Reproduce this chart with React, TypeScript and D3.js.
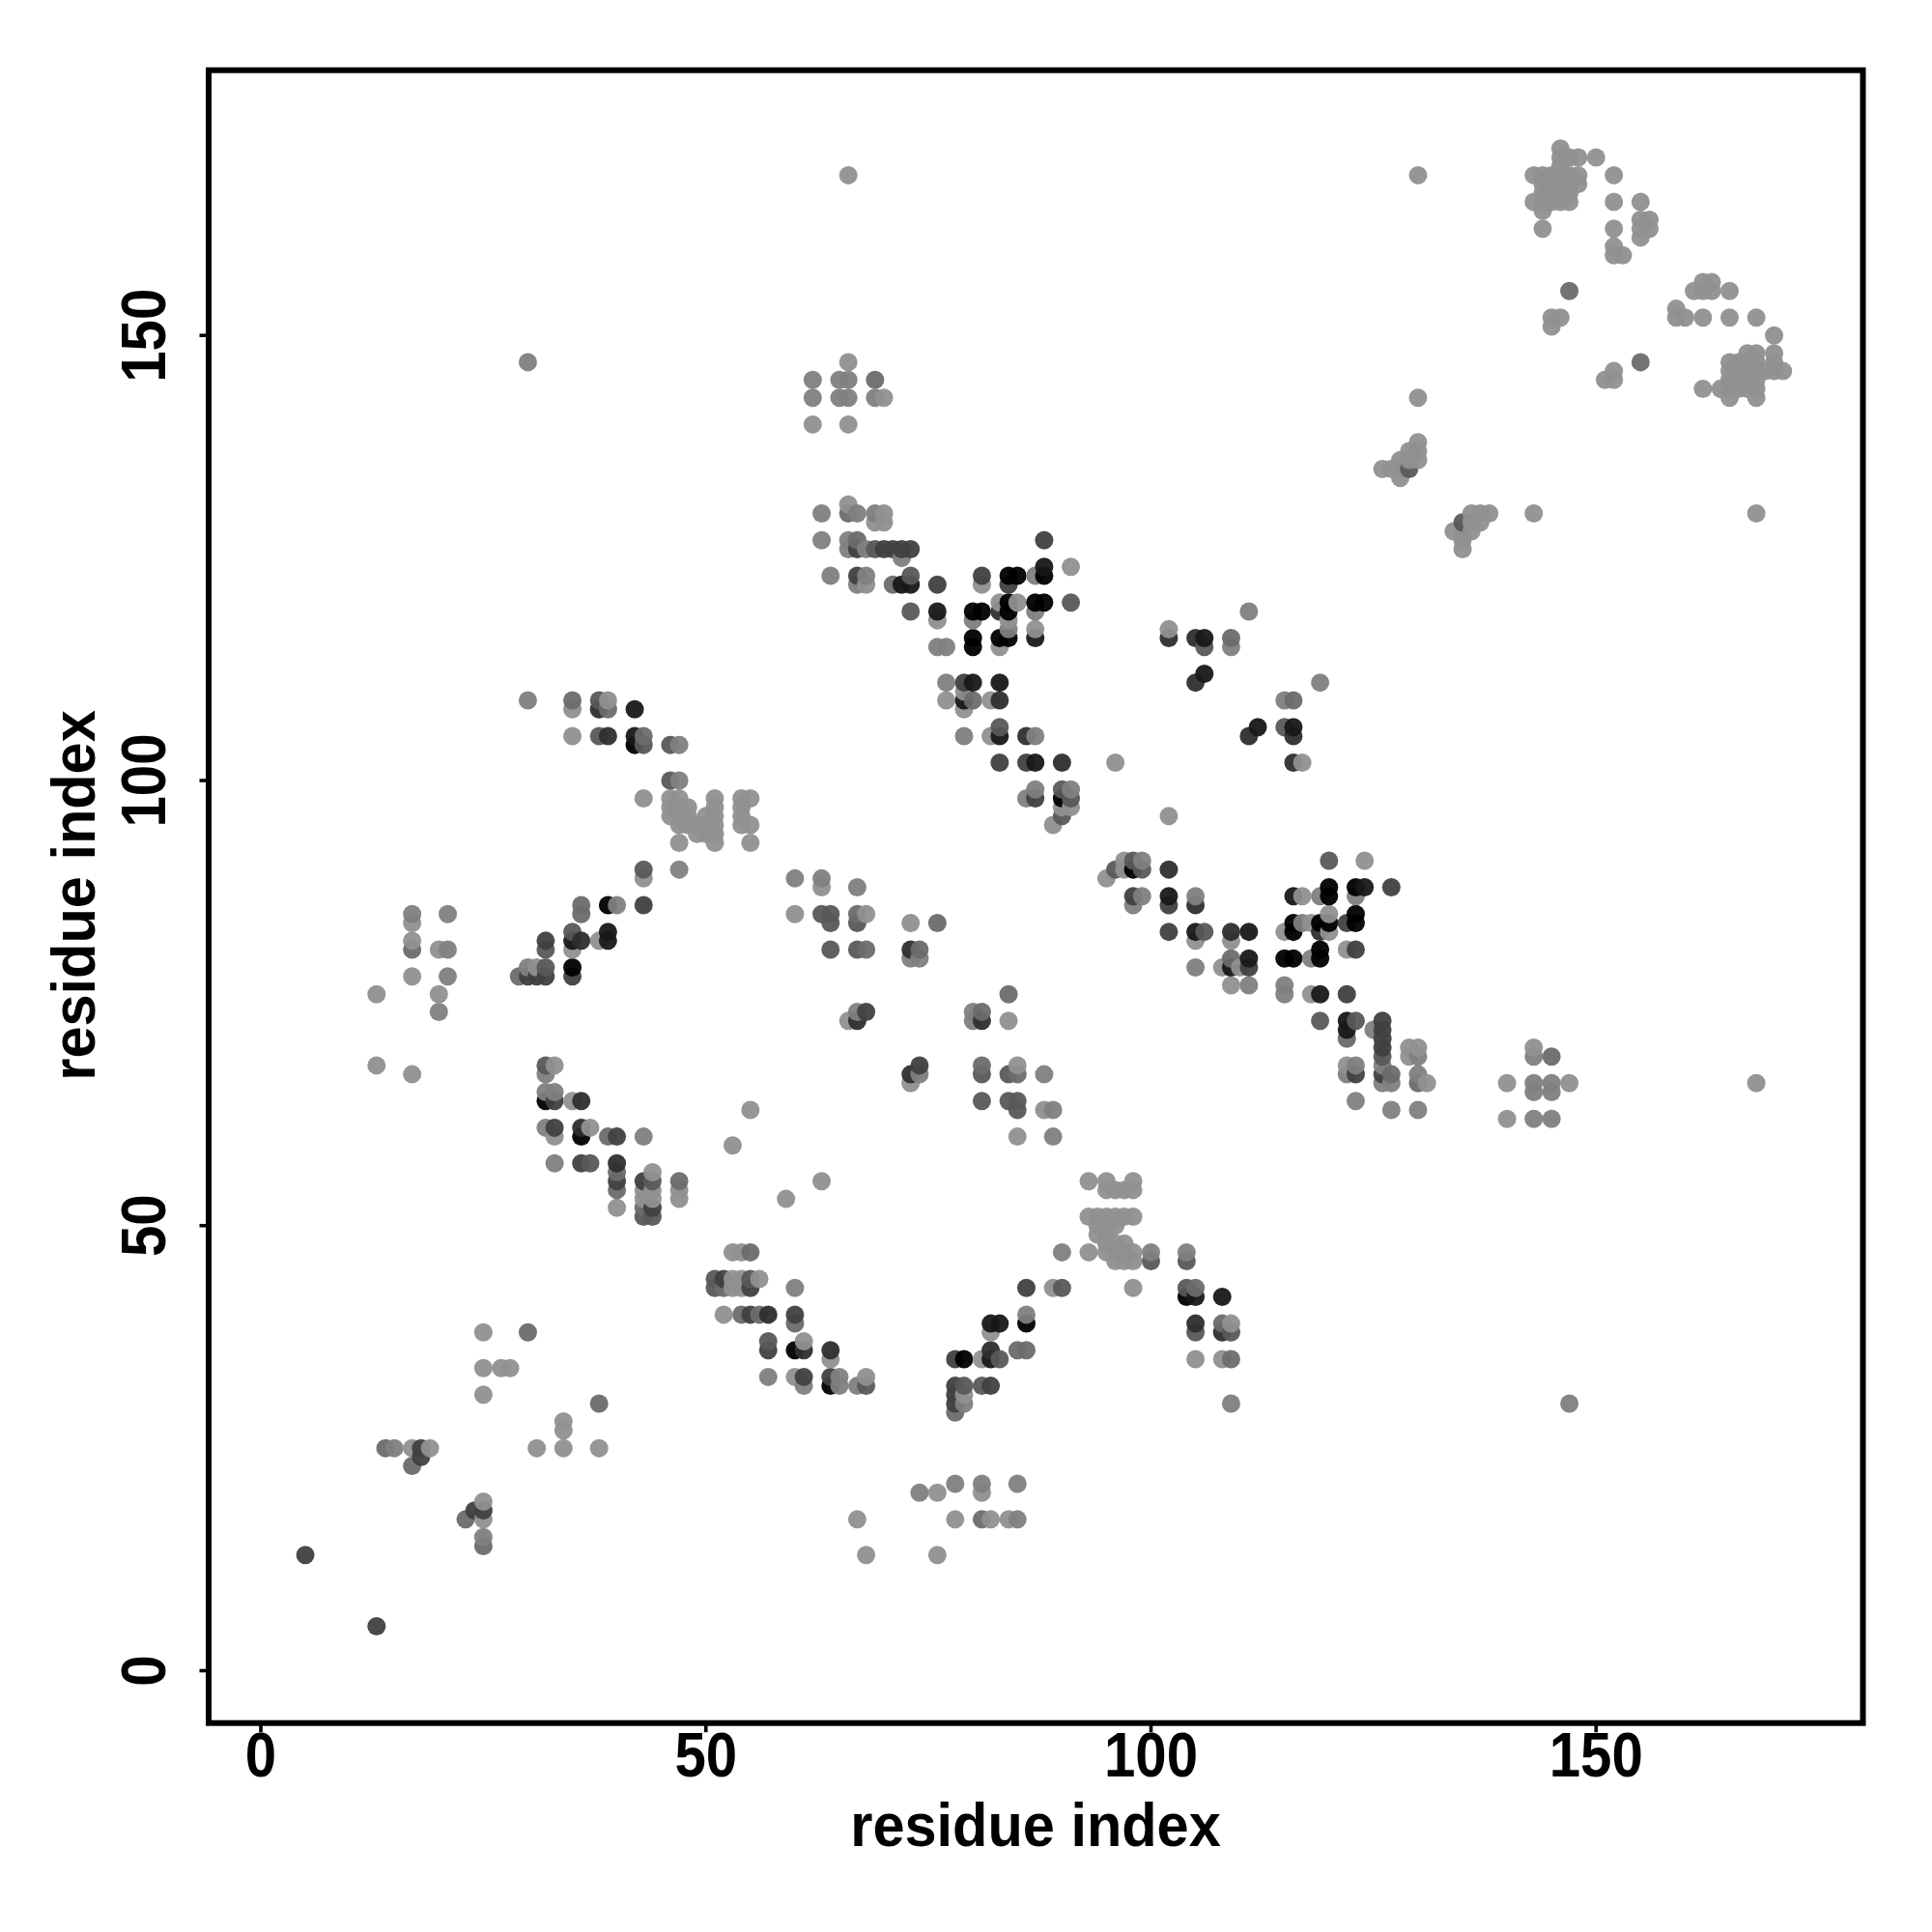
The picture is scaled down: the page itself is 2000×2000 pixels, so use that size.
import React from "react";
import * as d3 from "d3";

// residue contact pairs [low, high]; each is drawn at (low, high) and (high, low)
const tone150: number[][] = [[17,25],[19,25],[25,34],[27,34],[28,34],[25,31],[25,38],[13,68],[13,76],[17,67],[17,84],[17,82],[17,78],[20,81],[20,76],[33,68],[35,64],[37,61],[33,60],[40,52],[44,56],[44,54],[44,53],[43,54],[43,53],[47,54],[47,53],[55,63],[53,59],[43,98],[43,89],[35,81],[38,82],[31,79],[35,108],[35,105],[39,109],[63,88],[60,85],[68,85],[73,84],[66,73],[85,68],[66,147],[70,143],[62,140],[66,140],[66,168],[66,131],[70,130],[69,129],[70,129],[68,122],[76,118],[77,109],[79,110],[79,108],[82,109],[82,105],[96,102],[90,97],[91,97],[89,95],[81,122],[83,120],[85,120],[91,124],[84,118],[87,117],[83,115],[102,117],
[47,93],[47,95],[47,96],[47,97],[47,98],[46,96],[46,97],[46,98],[48,95],[48,96],[48,97],[49,94],[49,95],[50,94],[50,95],[50,96],[51,93],[51,94],[51,95],[51,96],[51,97],[51,98],[54,95],[54,96],[54,97],[54,98],[55,93],[55,95],[55,98],
[143,165],[144,165],[145,165],[146,165],[147,165],[143,168],[144,168],[145,168],[146,168],[147,168],[148,168],[144,167],[145,167],[146,167],[147,167],[148,167],[144,166],[145,166],[146,166],[147,166],[144,164],[144,162],[146,171],[146,170],[146,169],[147,170],[148,170],[150,170],[152,168],[152,165],[155,165],[155,163],[156,163],[155,162],[156,162],[155,161],[152,162],[152,160],[152,159],[153,159],[145,152],[146,152],[145,151],[130,143],[130,168],[126,135],[127,135],[128,135],[128,134],[128,136],[129,136],[130,136],[129,137],[130,137],[130,138]];
const tone133: number[][] = [[15,25],[17,85],[21,85],[21,81],[21,78],[20,74],[33,57],[43,60],[32,67],[32,65],[33,65],[32,61],[40,86],[47,90],[47,100],[47,104],[30,79],[30,109],[30,147],[60,89],[63,89],[67,88],[67,74],[73,80],[74,80],[62,145],[65,145],[66,145],[62,143],[65,143],[66,143],[69,143],[63,130],[67,130],[69,130],[63,127],[66,127],[66,126],[68,126],[64,123],[68,123],[67,122],[72,125],[76,115],[77,115],[77,111],[79,105],[87,105],[87,99],[91,99],[86,98],[87,123],[87,119],[80,118],[84,117],[109,115],[111,119]];
const tone115: number[][] = [[14,25],[17,23],[30,38],[17,81],[40,54],[40,56],[47,55],[43,52],[39,60],[29,78],[36,85],[36,86],[43,105],[39,108],[35,109],[67,85],[68,81],[74,81],[76,84],[66,130],[67,127],[69,145],[71,122],[80,109],[109,116],[147,155]];
const tone96: number[][] = [[37,57],[44,55],[43,51],[44,51],[32,68],[32,79],[32,81],[35,83],[43,90],[46,100],[46,104],[43,104],[38,109],[38,105],[63,85],[64,85],[64,84],[67,84],[64,81],[67,81],[69,126],[73,123],[73,119],[83,106],[90,99],[91,98],[91,120],[106,115],[129,135],[90,96]];
const tone74: number[][] = [[5,13],[18,24],[18,25],[36,57],[40,55],[40,60],[44,52],[43,55],[43,86],[33,61],[33,64],[31,78],[30,78],[32,78],[32,82],[35,78],[67,126],[70,126],[71,126],[72,126],[73,126],[67,123],[76,122],[79,111],[83,102],[86,102],[87,98],[81,123],[84,122],[88,127],[68,74]];
const tone56: number[][] = [[40,57],[36,61],[36,64],[36,82],[39,105],[38,108],[73,81],[67,73],[83,109],[83,119],[86,105],[90,102],[102,116],[105,116],[105,111]];
const tone36: number[][] = [[35,82],[39,82],[39,83],[42,108],[42,105],[72,122],[73,122],[80,111],[83,111],[79,109],[83,105],[87,102],[76,119],[88,124],[87,116],[106,116],[106,112]];
const tone12: number[][] = [[35,79],[39,86],[32,64],[36,60],[42,104],[90,98],[84,123],[85,123],[88,123],[84,120],[87,120],[88,120],[80,119],[81,119],[84,119],[80,116],[83,116],[84,116],[80,115]];

const toneGroups: [number, number[][]][] = [[150,tone150],[133,tone133],[115,tone115],[96,tone96],[74,tone74],[56,tone56],[36,tone36],[12,tone12]];
const tickValues = [0, 50, 100, 150];
const axisTitle = "residue index";

const x = d3.scaleLinear().domain([0, 150]).range([270, 1652.25]);
const y = d3.scaleLinear().domain([0, 150]).range([1729.5, 347.25]);

const frame = { left: 216, right: 1928.5, top: 72.7, bottom: 1783.7 };
const font = "'Liberation Sans', Arial, sans-serif";
const dotOpacity = 0.95;

type Dot = { x: number; y: number; tone: number };
const seen = new Map<string, Dot>();
toneGroups.forEach(([tone, pairs]) => {
  pairs.forEach(([a, b]) => {
    seen.set(`${a},${b}`, { x: a, y: b, tone });
    seen.set(`${b},${a}`, { x: b, y: a, tone });
  });
});
const dots = Array.from(seen.values()).sort((p, q) => d3.ascending(p.x, q.x) || d3.ascending(p.y, q.y));
const inkFor = (tone: number) => {
  const v = Math.max(0, (tone - (1 - dotOpacity) * 255) / dotOpacity);
  return d3.rgb(v, v, v).formatHex();
};

export default function App() {
  return (
    <svg width={2000} height={2000} style={{ position: "absolute", left: 0, top: 0, background: "#fff" }}>
      {dots.map((d) => (
        <circle key={`${d.x}-${d.y}`} cx={x(d.x)} cy={y(d.y)} r={9.5} fill={inkFor(d.tone)} fillOpacity={dotOpacity} />
      ))}
      <rect x={frame.left} y={frame.top} width={frame.right - frame.left} height={frame.bottom - frame.top} fill="none" stroke="#000" strokeWidth={6} />
      {tickValues.map((t) => (
        <g key={t}>
          <line x1={x(t)} x2={x(t)} y1={frame.bottom} y2={frame.bottom + 9.5} stroke="#000" strokeWidth={3.6} />
          <text transform={`translate(${x(t)},1839) scale(0.97,1.07)`} textAnchor="middle" fontFamily={font} fontWeight="bold" fontSize={60} fill="#000">{t}</text>
          <line x1={frame.left} x2={frame.left - 9.5} y1={y(t)} y2={y(t)} stroke="#000" strokeWidth={3.6} />
          <text transform={`translate(171,${y(t)}) rotate(-90) scale(0.97,1.07)`} textAnchor="middle" fontFamily={font} fontWeight="bold" fontSize={60} fill="#000">{t}</text>
        </g>
      ))}
      <text transform="translate(1072,1911) scale(1,1.05)" textAnchor="middle" fontFamily={font} fontWeight="bold" fontSize={59.5} fill="#000">{axisTitle}</text>
      <text transform="translate(98,927) rotate(-90) scale(1,1.05)" textAnchor="middle" fontFamily={font} fontWeight="bold" fontSize={59.5} fill="#000">{axisTitle}</text>
    </svg>
  );
}
